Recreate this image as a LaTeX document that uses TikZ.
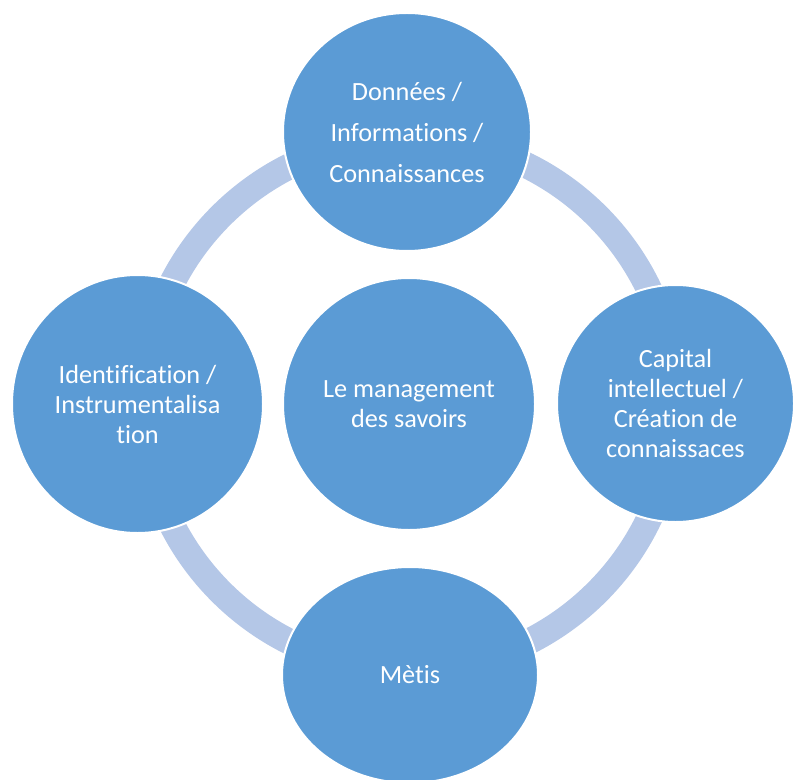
\documentclass[tikz,border=0pt]{standalone}
\usepackage{fontspec}
\setmainfont{Carlito}[Ligatures=NoCommon]
\usetikzlibrary{shapes.geometric}
\definecolor{bubble}{HTML}{5B9BD5}
\definecolor{ringblue}{HTML}{B4C7E7}
\tikzset{
  bubble/.style={ellipse, fill=bubble, draw=white, line width=1.5pt,
    inner sep=0pt, text=white, align=center,
    font=\fontsize{19.7}{22.5}\selectfont},
  ring/.style={draw=ringblue, line width=19.5pt}
}
\begin{document}
\begin{tikzpicture}[x=0.75pt, y=-0.75pt]
\useasboundingbox (0,0) rectangle (795,780);
%
\draw (409,404) node[bubble, minimum width=189pt, minimum height=189pt]
  (savoirs){Le management\\des savoirs};
\draw[ring] (savoirs.center) circle[radius=199.5pt];
%
\draw (407,132) node[bubble, minimum width=186pt, minimum height=178.5pt,
  font=\fontsize{19.7}{30.75}\selectfont]
  (donnees){Données /\\Informations /\\Connaissances};
%
\draw (137.5,404) node[bubble, minimum width=188.25pt, minimum height=193.5pt]
  (identif){Identification /\\Instrumentalisa\\tion};
%
\draw (675.5,403.5) node[bubble, minimum width=177.75pt, minimum height=177.75pt]
  (capital){Capital\\intellectuel /\\Création de\\connaissaces};
%
\draw (410,675) node[bubble, minimum width=192pt, minimum height=162pt]
  (metis){Mètis};
\end{tikzpicture}
\end{document}
